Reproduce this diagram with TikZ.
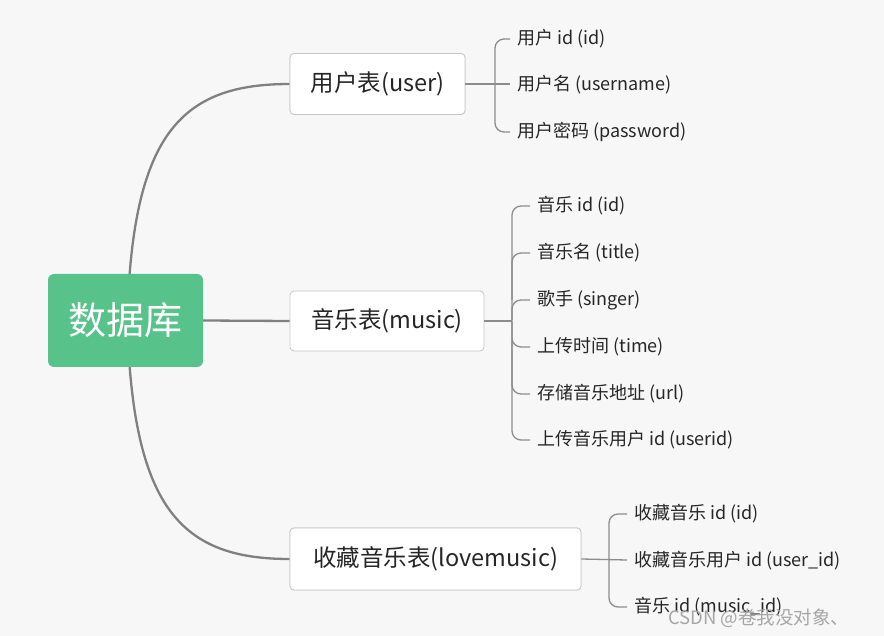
\documentclass[tikz,border=0pt]{standalone}
\usepackage{fontspec}
\setmainfont{Noto Sans CJK SC}
\begin{document}
\begin{tikzpicture}[x=1pt,y=-1pt,
  conn/.style={draw=black!50,line width=2.3pt},
  brk/.style={draw=black!45,line width=1.3pt,rounded corners=9pt},
  tbl/.style={draw=black!22,fill=white,rounded corners=4pt,line width=0.8pt,inner sep=0pt,font=\fontsize{23.5}{27}\selectfont,text=black!85},
  leaf/.style={anchor=west,inner sep=0pt,font=\fontsize{18}{21}\selectfont,text=black!85},
]
\fill[black!3] (0,0) rectangle (884,636);
\useasboundingbox (0,0) rectangle (884,636);
\coordinate (c1) at (128,300);
\coordinate (c2) at (128,340);
\node[tbl,minimum width=175pt,minimum height=61pt] (u) at (377.5,84) {用户表(user)};
\node[tbl,minimum width=194pt,minimum height=60pt] (m) at (387,321) {音乐表(music)};
\node[tbl,minimum width=291pt,minimum height=62pt] (l) at (435.5,559) {收藏音乐表(lovemusic)};
\draw[conn] (c1) .. controls (136,130) and (185,84) .. (u.west);
\draw[conn] (c2) .. controls (136,512) and (185,559) .. (l.west);
\node[tbl,minimum width=175pt,minimum height=61pt] at (377.5,84) {用户表(user)};
\node[fill={rgb,255:red,87;green,194;blue,138},rounded corners=6pt,minimum width=155pt,minimum height=93pt,inner sep=0pt,text=white,font=\fontsize{38}{42}\selectfont] (r) at (125.5,320.5) {数据库};
\draw[conn] (r.east) -- (m.west);
\node[tbl,minimum width=291pt,minimum height=62pt] at (435.5,559) {收藏音乐表(lovemusic)};
% user leaves
\node[leaf] (u1) at (517,39) {用户 id (id)};
\node[leaf] (u2) at (517,85) {用户名 (username)};
\node[leaf] (u3) at (517,132) {用户密码 (password)};
\draw[brk] ([xshift=-7pt]u1.west) -| (495,84) |- ([xshift=-7pt]u3.west);
\draw[brk] (u.east) -- (510,84);
% music leaves
\node[leaf] (m1) at (537,206) {音乐 id (id)};
\node[leaf] (m2) at (537,253) {音乐名 (title)};
\node[leaf] (m3) at (537,300) {歌手 (singer)};
\node[leaf] (m4) at (537,347) {上传时间 (time)};
\node[leaf] (m5) at (537,394) {存储音乐地址 (url)};
\node[leaf] (m6) at (537,440) {上传音乐用户 id (userid)};
\draw[brk] ([xshift=-7pt]m1.west) -| (512,321) |- ([xshift=-7pt]m6.west);
\draw[brk] ([xshift=-7pt]m2.west) -| (512,300);
\draw[brk] ([xshift=-7pt]m3.west) -| (512,320);
\draw[brk] ([xshift=-7pt]m4.west) -| (512,322);
\draw[brk] ([xshift=-7pt]m5.west) -| (512,340);
\draw[brk] (m.east) -- (512,321);
% lovemusic leaves
\node[leaf] (l1) at (634,514) {收藏音乐 id (id)};
\node[leaf] (l2) at (634,561) {收藏音乐用户 id (user\_id)};
\node[leaf] (l3) at (634,607) {音乐 id (music\_id)};
\draw[brk] ([xshift=-7pt]l1.west) -| (609,560) |- ([xshift=-7pt]l3.west);
\draw[brk] (l.east) -- (627,560);
% watermark
\node[anchor=west,inner sep=0pt,text=black!35,font=\fontsize{18.5}{20}\selectfont] (wm) at (668,618) {CSDN @卷我没对象、};
\end{tikzpicture}
\end{document}
